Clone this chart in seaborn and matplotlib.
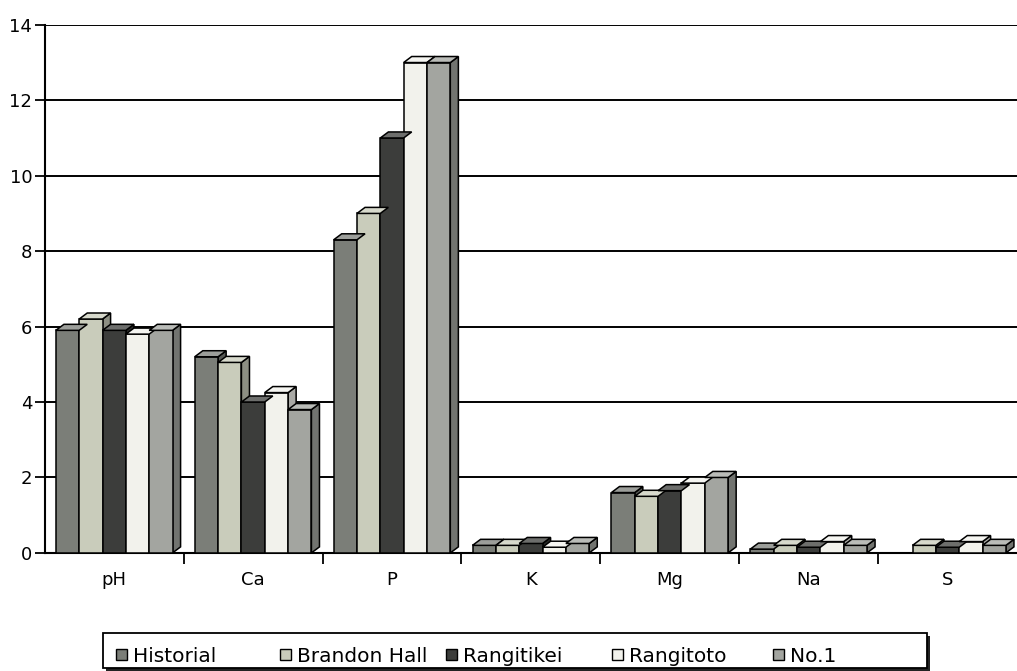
import numpy as np
import pandas as pd
import matplotlib
matplotlib.use("Agg")
import matplotlib.pyplot as plt
from matplotlib.patches import Polygon, Rectangle
from matplotlib.colors import to_rgb
import seaborn as sns

# Soil analysis values by site
categories = ["pH", "Ca", "P", "K", "Mg", "Na", "S"]
series = ["Historial", "Brandon Hall", "Rangitikei", "Rangitoto", "No.1"]
historial = [5.9, 5.2, 8.3, 0.2, 1.6, 0.1, np.nan]
brandon_hall = [6.2, 5.05, 9.0, 0.2, 1.5, 0.2, 0.2]
rangitikei = [5.9, 4.0, 11.0, 0.25, 1.65, 0.15, 0.15]
rangitoto = [5.8, 4.25, 13.0, 0.15, 1.85, 0.3, 0.3]
no1 = [5.9, 3.8, 13.0, 0.25, 2.0, 0.2, 0.2]
y_ticks = [0, 2, 4, 6, 8, 10, 12, 14]

colors = ["#7b7e78", "#c9ccbb", "#3c3d3b", "#f2f2ec", "#a3a5a0"]

values = [historial, brandon_hall, rangitikei, rangitoto, no1]
rows = []
for name, vals in zip(series, values):
    for cat, v in zip(categories, vals):
        rows.append({"element": cat, "site": name, "value": v})
df = pd.DataFrame(rows).dropna()

sns.set_theme(style="white")
plt.rcParams["font.family"] = ["DejaVu Sans"]

W, H = 1017, 671
fig = plt.figure(figsize=(W / 100, H / 100), dpi=100)
ax = fig.add_axes([0.044, 0.176, 0.956, 0.787])

sns.barplot(data=df, x="element", y="value", hue="site", order=categories,
            hue_order=series, palette=colors, width=0.84, dodge=True,
            edgecolor="black", linewidth=1.1, saturation=1, legend=False,
            ax=ax, zorder=3)

ax.set_xlim(-0.5, len(categories) - 0.5)
ax.set_ylim(0, 14)

# Depth of the pseudo-3D faces, in data units
dx = 0.058
dy = 0.16


def shade(c, f):
    r, g, b = to_rgb(c)
    if f >= 1:
        return (r + (1 - r) * (f - 1), g + (1 - g) * (f - 1), b + (1 - b) * (f - 1))
    return (r * f, g * f, b * f)


for p in list(ax.patches):
    h = p.get_height()
    if not np.isfinite(h) or h <= 0:
        continue
    x0 = p.get_x()
    w = p.get_width()
    x1 = x0 + w
    fc = p.get_facecolor()
    top = Polygon([(x0, h), (x1, h), (x1 + dx, h + dy), (x0 + dx, h + dy)],
                  closed=True, facecolor=shade(fc, 1.25), edgecolor="black",
                  linewidth=1.1, zorder=3.5)
    side = Polygon([(x1, 0), (x1 + dx, dy), (x1 + dx, h + dy), (x1, h)],
                   closed=True, facecolor=shade(fc, 0.7), edgecolor="black",
                   linewidth=1.1, zorder=2.9)
    ax.add_patch(side)
    ax.add_patch(top)

# Axes styling
ax.set_xlabel("")
ax.set_ylabel("")
ax.set_yticks(y_ticks)
ax.set_yticklabels([str(t) for t in y_ticks], fontsize=13, color="black")
ax.set_xticks(range(len(categories)))
ax.set_xticklabels(categories, fontsize=13, color="black")
ax.set_xticks(np.arange(0.5, len(categories) - 0.5, 1), minor=True)
ax.tick_params(axis="x", which="major", length=0, pad=13)
ax.tick_params(axis="x", which="minor", length=8, width=1.3, color="black",
               direction="out", bottom=True)
ax.tick_params(axis="y", length=7, width=1.3, color="black", direction="out",
               left=True, pad=2)
ax.yaxis.grid(True, color="black", linewidth=1.4, zorder=0)
ax.set_axisbelow(True)
for s in ["top", "right"]:
    ax.spines[s].set_visible(False)
for s in ["left", "bottom"]:
    ax.spines[s].set_color("black")
    ax.spines[s].set_linewidth(1.5)

# Legend box drawn in figure pixels
def fx(px):
    return px / W


def fy(py):
    return 1 - py / H


box_l, box_r, box_t, box_b = 103, 927, 633, 668
fig.add_artist(Rectangle((fx(box_l + 3), fy(box_b + 3)), fx(box_r - box_l),
                         fy(box_t) - fy(box_b), transform=fig.transFigure,
                         facecolor="#222222", edgecolor="none", zorder=1))
fig.add_artist(Rectangle((fx(box_l), fy(box_b)), fx(box_r - box_l),
                         fy(box_t) - fy(box_b), transform=fig.transFigure,
                         facecolor="white", edgecolor="black", linewidth=1.3,
                         zorder=2))
entry_x = [116, 280, 446, 612, 773]
sq = 11
ty = 654
for x, name, c in zip(entry_x, series, colors):
    fig.add_artist(Rectangle((fx(x), fy(ty + sq / 2)), fx(sq),
                             fy(ty - sq / 2) - fy(ty + sq / 2),
                             transform=fig.transFigure, facecolor=c,
                             edgecolor="black", linewidth=1.0, zorder=3))
    fig.text(fx(x + sq + 6), fy(ty), name, fontsize=14.5, ha="left",
             va="center_baseline", color="black", zorder=3)

fig.savefig("out.png", dpi=100)
